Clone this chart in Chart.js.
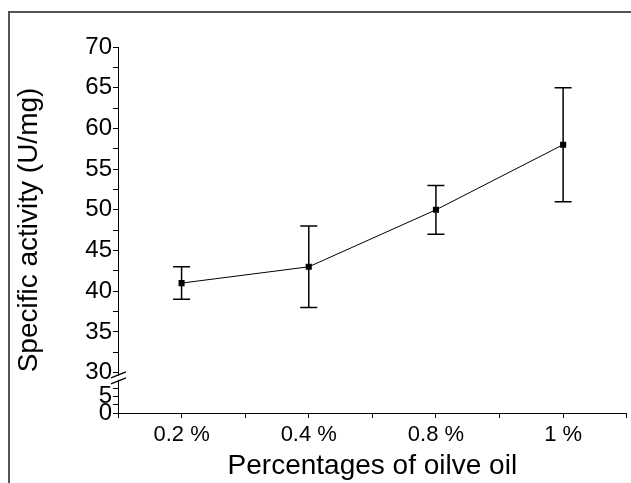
<!DOCTYPE html>
<html>
<head>
<meta charset="utf-8">
<script src="https://cdn.jsdelivr.net/npm/chart.js@4.4.1/dist/chart.umd.min.js"></script>
<style>
    html, body { margin: 0; padding: 0; background: #fff; }
    #moldura { position: absolute; left: 8px; top: 11px; width: 623px; height: 472px; border-left: 2px solid #555; border-top: 2px solid #555; box-sizing: border-box; }
    #area { position: absolute; left: 0; top: 0; width: 631px; height: 483px; }
</style>
</head>
<body>
<div id="moldura"></div>
<div id="area"><canvas id="grafico"></canvas></div>
<script>
// dados
const categorias = ["0.2 %", "0.4 %", "0.8 %", "1 %"];
const atividade = [41, 43, 50, 58];
const erroInferior = [39, 38, 47, 51];
const erroSuperior = [43, 48, 53, 65];

// marcas dos eixos (maiores e menores)
const ticksX = [-0.5, 0, 0.5, 1, 1.5, 2, 2.5, 3, 3.5];
const ticksSuperior = [30, 32.5, 35, 37.5, 40, 42.5, 45, 47.5, 50, 52.5, 55, 57.5, 60, 62.5, 65, 67.5, 70];
const ticksInferior = [0, 2.5, 5, 7.5];

const fonte = "'Liberation Sans', Arial, sans-serif";

const barrasErro = {
    id: "barrasErro",
    beforeDatasetsDraw(chart) {
        const { ctx, scales: { x, yAlto } } = chart;
        ctx.save();
        ctx.strokeStyle = "#000";
        ctx.lineWidth = 1.5;
        atividade.forEach((v, i) => {
            const px = x.getPixelForValue(i);
            const yLo = yAlto.getPixelForValue(erroInferior[i]);
            const yHi = yAlto.getPixelForValue(erroSuperior[i]);
            ctx.beginPath();
            ctx.moveTo(px, yHi); ctx.lineTo(px, yLo);
            ctx.moveTo(px - 8.5, yHi); ctx.lineTo(px + 8.5, yHi);
            ctx.moveTo(px - 8.5, yLo); ctx.lineTo(px + 8.5, yLo);
            ctx.stroke();
        });
        ctx.restore();
    }
};

// quebra do eixo y
const quebraEixo = {
    id: "quebraEixo",
    afterDraw(chart) {
        const { ctx, scales: { yAlto } } = chart;
        const px = yAlto.right;
        const py = yAlto.bottom;
        ctx.save();
        ctx.fillStyle = "#fff";
        ctx.fillRect(px - 2, py - 9, 4, 4);
        ctx.strokeStyle = "#000";
        ctx.lineWidth = 1.2;
        ctx.beginPath();
        ctx.moveTo(px - 7, py - 7); ctx.lineTo(px + 8, py - 13);
        ctx.moveTo(px - 7, py - 1); ctx.lineTo(px + 8, py - 7);
        ctx.stroke();
        ctx.restore();
    }
};

function eixoY(min, max, ticks, peso) {
    return {
        type: "linear",
        position: "left",
        stack: "y",
        stackWeight: peso,
        min: min,
        max: max,
        afterBuildTicks: axis => { axis.ticks = ticks.map(v => ({ value: v })); },
        afterFit: axis => { axis.width = 70; },
        ticks: {
            callback: v => (v % 5 === 0 ? v : ""),
            font: { family: fonte, size: 24 },
            color: "#000",
            autoSkip: false,
            padding: 1
        },
        grid: { drawOnChartArea: false, tickLength: 5, color: "#000" },
        border: { color: "#000", width: 1 }
    };
}

new Chart(document.getElementById("grafico").getContext("2d"), {
    type: "line",
    data: {
        datasets: [{
            data: atividade.map((v, i) => ({ x: i, y: v })),
            yAxisID: "yAlto",
            borderColor: "#000",
            borderWidth: 1,
            pointStyle: "rect",
            pointRadius: 4.3,
            pointBackgroundColor: "#000",
            pointBorderWidth: 0,
            tension: 0
        }]
    },
    options: {
        responsive: true,
        maintainAspectRatio: false,
        animation: false,
        devicePixelRatio: 1,
        layout: { padding: { left: 10, top: 47, right: 0, bottom: 0 } },
        plugins: { legend: { display: false }, tooltip: { enabled: false } },
        scales: {
            x: {
                type: "linear",
                min: -0.5,
                max: 3.5,
                afterBuildTicks: axis => { axis.ticks = ticksX.map(v => ({ value: v })); },
                afterFit: axis => { axis.height = 70; },
                ticks: {
                    callback: v => (Number.isInteger(v) ? categorias[v] : ""),
                    font: { family: fonte, size: 22 },
                    color: "#000",
                    maxRotation: 0,
                    autoSkip: false,
                    padding: 4
                },
                grid: { drawOnChartArea: false, tickLength: 5, color: "#000" },
                border: { color: "#000", width: 1 },
                title: {
                    display: true,
                    text: "Percentages of oilve oil",
                    font: { family: fonte, size: 28 },
                    color: "#000",
                    padding: { top: 0, bottom: 0 }
                }
            },
            yBaixo: eixoY(0, 8.5, ticksInferior, 1),
            yAlto: eixoY(28.5, 70, ticksSuperior, 12),
            yTitulo: {
                type: "linear",
                position: "left",
                afterFit: axis => { axis.width = 38; },
                ticks: { display: false },
                grid: { display: false },
                border: { display: false },
                title: {
                    display: true,
                    text: "Specific activity (U/mg)",
                    font: { family: fonte, size: 28 },
                    color: "#000",
                    padding: 2
                }
            }
        }
    },
    plugins: [barrasErro, quebraEixo]
});
</script>
</body>
</html>
